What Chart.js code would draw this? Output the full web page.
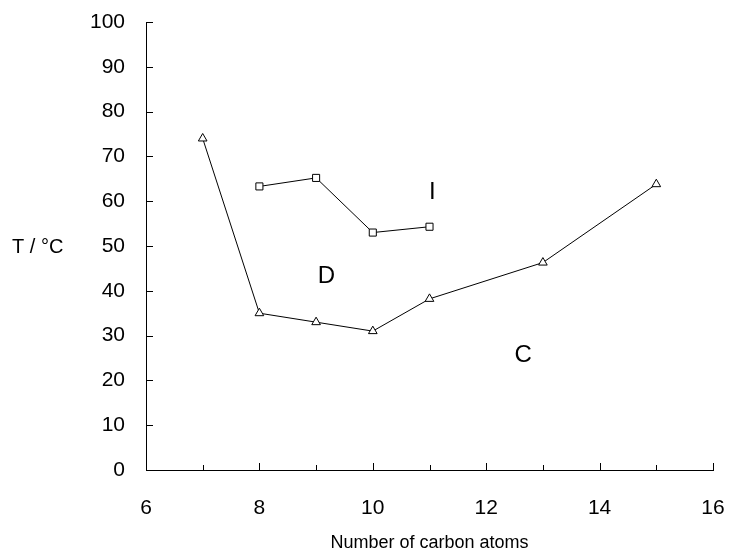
<!DOCTYPE html>
<html><head><meta charset="utf-8">
<script src="https://cdn.jsdelivr.net/npm/chart.js@4/dist/chart.umd.min.js"></script>
<style>html,body{margin:0;padding:0;background:#fff}#wrap{width:729px;height:555px}</style>
</head><body><div id="wrap"><canvas id="c" width="729" height="555"></canvas></div>
<script>
const triX = [7, 8, 9, 10, 11, 13, 15];
const triY = [74, 35, 33, 31, 38.2, 46.3, 63.8];
const sqX = [8, 9, 10, 11];
const sqY = [63.3, 65.2, 53, 54.3];
const xTicks = [6, 8, 10, 12, 14, 16];
const yTicks = [0, 10, 20, 30, 40, 50, 60, 70, 80, 90, 100];
const regionLabels = [{t:'I', x:11.05, y:62}, {t:'D', x:9.18, y:43.2}, {t:'C', x:12.65, y:25.5}];

const FONT = '"Liberation Sans", Arial, sans-serif';

const tickPlugin = {
  id: 'extras',
  afterDraw(chart) {
    const ctx = chart.ctx, xs = chart.scales.x, ys = chart.scales.y;
    const a = chart.chartArea;
    ctx.save();
    ctx.strokeStyle = '#000'; ctx.lineWidth = 1;
    ctx.beginPath();
    for (let v = 7; v <= 16; v++) {
      const px = Math.round(xs.getPixelForValue(v)) + 0.5;
      const len = (v % 2 === 0) ? 7 : 5;
      ctx.moveTo(px, a.bottom); ctx.lineTo(px, a.bottom - len);
    }
    yTicks.forEach(v => {
      if (v === 0) return;
      const py = Math.round(ys.getPixelForValue(v)) + 0.5;
      ctx.moveTo(a.left, py); ctx.lineTo(a.left + 7, py);
    });
    ctx.stroke();
    ctx.fillStyle = '#000';
    ctx.textAlign = 'center'; ctx.textBaseline = 'middle';
    ctx.font = '24px ' + FONT;
    regionLabels.forEach(l => {
      ctx.fillText(l.t, xs.getPixelForValue(l.x), ys.getPixelForValue(l.y));
    });
    ctx.font = '20px ' + FONT;
    ctx.textAlign = 'left';
    ctx.fillText('T / \u00B0C', 12, ys.getPixelForValue(50) + 1);
    ctx.restore();
  }
};

new Chart(document.getElementById('c'), {
  type: 'scatter',
  data: {
    datasets: [
      { data: triX.map((x, i) => ({x, y: triY[i]})), showLine: true, borderColor: '#000', borderWidth: 1,
        pointStyle: 'triangle', pointRadius: 5, pointBackgroundColor: '#fff', pointBorderColor: '#000', pointBorderWidth: 1 },
      { data: sqX.map((x, i) => ({x, y: sqY[i]})), showLine: true, borderColor: '#000', borderWidth: 1,
        pointStyle: 'rect', pointRadius: 5, pointBackgroundColor: '#fff', pointBorderColor: '#000', pointBorderWidth: 1 }
    ]
  },
  options: {
    responsive: false, animation: false, devicePixelRatio: 1,
    layout: { padding: { left: 0, right: 16, top: 22, bottom: 0 } },
    plugins: { legend: { display: false }, tooltip: { enabled: false } },
    scales: {
      x: {
        type: 'linear', min: 6, max: 16,
        afterFit(s) { s.height = 85; s.paddingLeft = 0; s.paddingRight = 0; },
        afterBuildTicks(s) { s.ticks = xTicks.map(v => ({value: v})); },
        grid: { display: false, drawTicks: false },
        border: { display: true, color: '#000', width: 1 },
        ticks: { color: '#000', font: { family: FONT, size: 21 }, padding: 26, maxRotation: 0 },
        title: { display: true, text: 'Number of carbon atoms', color: '#000', font: { family: FONT, size: 18 }, padding: { top: 0, bottom: 1 } }
      },
      y: {
        type: 'linear', min: 0, max: 100,
        afterFit(s) { s.width = 146; s.paddingTop = 0; s.paddingBottom = 0; },
        afterBuildTicks(s) { s.ticks = yTicks.map(v => ({value: v})); },
        grid: { display: false, drawTicks: false },
        border: { display: true, color: '#000', width: 1 },
        ticks: { color: '#000', font: { family: FONT, size: 21 }, padding: 21 }
      }
    }
  },
  plugins: [tickPlugin]
});
</script></body></html>
